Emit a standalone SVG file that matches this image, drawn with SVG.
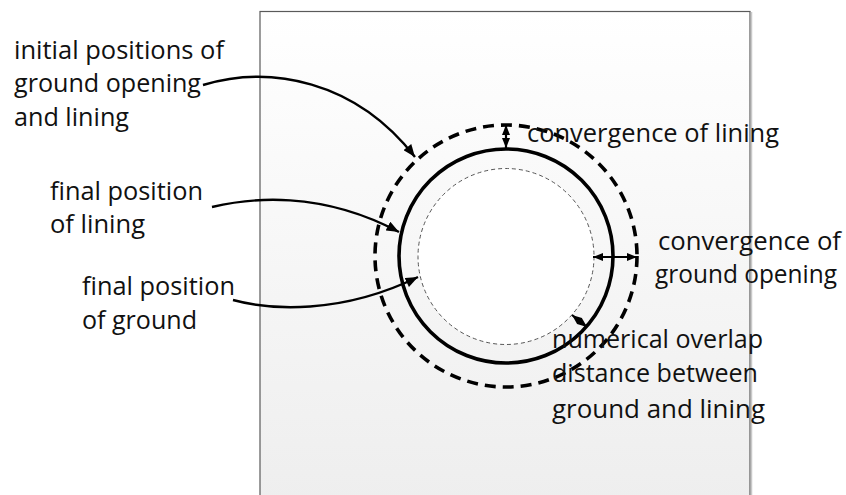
<svg xmlns="http://www.w3.org/2000/svg" width="846" height="495" viewBox="0 0 846 495">
  <defs>
    <linearGradient id="panelFill" x1="0" y1="0" x2="0" y2="1">
      <stop offset="0" stop-color="#ffffff"/>
      <stop offset="1" stop-color="#eeeeee"/>
    </linearGradient>
    <marker id="head" viewBox="0 0 10 8" refX="10" refY="4" markerWidth="13" markerHeight="10" markerUnits="userSpaceOnUse" orient="auto-start-reverse">
      <path d="M0,0 L10,4 L0,8 z" fill="#000"/>
    </marker>
    <marker id="headSmall" viewBox="0 0 10 8" refX="10" refY="4" markerWidth="10" markerHeight="8" markerUnits="userSpaceOnUse" orient="auto-start-reverse">
      <path d="M0,0 L10,4 L0,8 z" fill="#000"/>
    </marker>
    <style>
      .lbl { font-family: "Open Sans", "Liberation Sans", sans-serif; font-size: 26px; fill: #111; }
      .leader { fill: none; stroke: #000; stroke-width: 2.4; marker-end: url(#head); }
      .dim { fill: none; stroke: #000; stroke-width: 2.2; marker-start: url(#headSmall); marker-end: url(#headSmall); }
    </style>
  </defs>

  <!-- background panel -->
  <g id="panel">
    <rect x="260" y="11.5" width="490" height="490" fill="url(#panelFill)" stroke="#5a5a5a" stroke-width="1.2"/>
    <line x1="751.5" y1="12" x2="751.5" y2="495" stroke="#c8c8c8" stroke-width="1.5"/>
  </g>

  <!-- tunnel rings -->
  <g id="ground-final">
    <circle cx="506" cy="256.5" r="88" fill="#ffffff" stroke="#555" stroke-width="1" stroke-dasharray="4 3"/>
  </g>
  <g id="lining-final">
    <circle cx="506" cy="256" r="107" fill="none" stroke="#000" stroke-width="3.6"/>
  </g>
  <g id="initial-opening">
    <circle cx="506" cy="256" r="131" fill="none" stroke="#000" stroke-width="3.6" stroke-dasharray="11 7"/>
  </g>

  <!-- connectors -->
  <g id="connectors">
    <path class="leader" d="M203,85 C270,65 355,80 415,157"/>
    <path class="leader" d="M212,207 C250,198 320,190 399,232"/>
    <path class="leader" d="M233,300 C270,310 340,315 418,277"/>
    <line class="dim" x1="506" y1="125" x2="506" y2="148"/>
    <line class="dim" x1="593" y1="257" x2="637" y2="257"/>
    <line class="dim" x1="572" y1="315" x2="587" y2="327"/>
  </g>

  <!-- labels -->
  <g id="label-initial">
    <text class="lbl" x="14" y="59" textLength="210" lengthAdjust="spacingAndGlyphs">initial positions of</text>
    <text class="lbl" x="14" y="92" textLength="187" lengthAdjust="spacingAndGlyphs">ground opening</text>
    <text class="lbl" x="14" y="126" textLength="115" lengthAdjust="spacingAndGlyphs">and lining</text>
  </g>
  <g id="label-lining">
    <text class="lbl" x="50" y="200" textLength="153" lengthAdjust="spacingAndGlyphs">final position</text>
    <text class="lbl" x="50" y="233" textLength="95" lengthAdjust="spacingAndGlyphs">of lining</text>
  </g>
  <g id="label-ground">
    <text class="lbl" x="82" y="295" textLength="153" lengthAdjust="spacingAndGlyphs">final position</text>
    <text class="lbl" x="82" y="329" textLength="115" lengthAdjust="spacingAndGlyphs">of ground</text>
  </g>
  <g id="label-conv-lining">
    <text class="lbl" x="527" y="142" textLength="252" lengthAdjust="spacingAndGlyphs">convergence of lining</text>
  </g>
  <g id="label-conv-ground">
    <text class="lbl" x="658" y="250" textLength="183" lengthAdjust="spacingAndGlyphs">convergence of</text>
    <text class="lbl" x="655" y="283" textLength="182" lengthAdjust="spacingAndGlyphs">ground opening</text>
  </g>
  <g id="label-overlap">
    <text class="lbl" x="552" y="348" textLength="211" lengthAdjust="spacingAndGlyphs">numerical overlap</text>
    <text class="lbl" x="552" y="382" textLength="206" lengthAdjust="spacingAndGlyphs">distance between</text>
    <text class="lbl" x="552" y="418" textLength="213" lengthAdjust="spacingAndGlyphs">ground and lining</text>
  </g>
</svg>
